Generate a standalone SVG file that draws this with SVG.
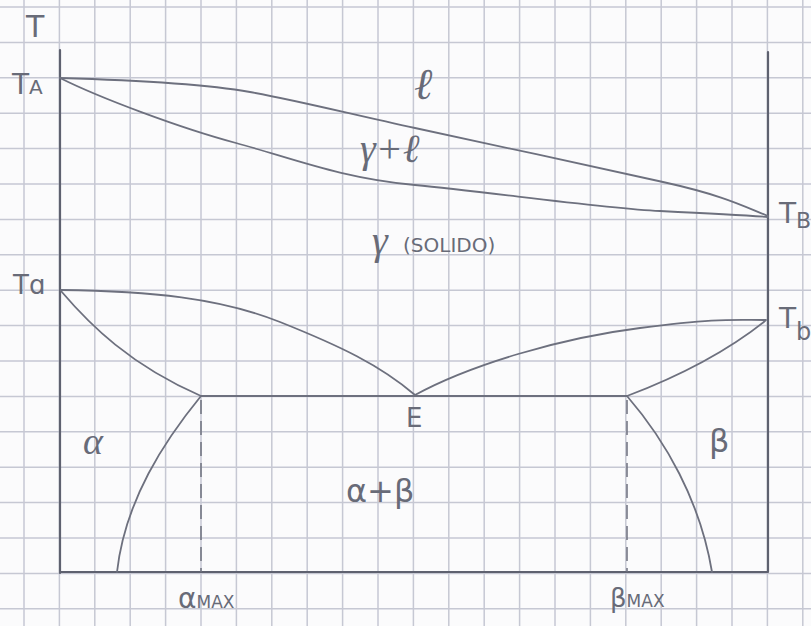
<svg xmlns="http://www.w3.org/2000/svg" width="811" height="626" viewBox="0 0 811 626">
<defs>
<style>
.grid{stroke:#c6c8d3;stroke-width:1.5;fill:none}
.axis{stroke:#5e616f;stroke-width:2.2;fill:none;stroke-linecap:round}
.curve{stroke:#6d707e;stroke-width:1.8;fill:none;stroke-linecap:round;stroke-linejoin:round}
.dash{stroke:#6d707e;stroke-width:1.5;fill:none;stroke-dasharray:14 7}
.t{font-family:"DejaVu Sans","Liberation Sans",sans-serif;fill:#686b78;font-weight:normal}
.h{font-family:"Liberation Serif","DejaVu Serif",serif;font-style:italic;fill:#686b78}
</style>
</defs>
<rect width="811" height="626" fill="#fbfbfc"/>
<g id="grid">
<path class="grid" d="M24,0V626M59.4,0V626M94.8,0V626M130.2,0V626M165.6,0V626M201,0V626M236.4,0V626M271.8,0V626M307.2,0V626M342.6,0V626M378,0V626M413.4,0V626M448.8,0V626M484.2,0V626M519.6,0V626M555,0V626M590.4,0V626M625.8,0V626M661.2,0V626M696.6,0V626M732,0V626M767.4,0V626M802.8,0V626"/>
<path class="grid" d="M0,7H811M0,42.4H811M0,77.8H811M0,113.2H811M0,148.6H811M0,184H811M0,219.4H811M0,254.8H811M0,290.2H811M0,325.6H811M0,361H811M0,396.4H811M0,431.8H811M0,467.2H811M0,502.6H811M0,538H811M0,573.4H811M0,608.8H811"/>
</g>
<g id="axes">
<path class="axis" d="M60,50V573M60,572H768M768,52V572"/>
</g>
<g id="connectors">
<path id="liquidus" class="curve" d="M60,78 C130,80 200,83 250,92 S350,114 415,128 S600,168 663,182 S745,207 768,216"/>
<path id="solidus" class="curve" d="M60,78 C100,98 180,128 236,143 S340,178 415,185 S600,208 660,211 S740,215 768,217"/>
<path id="ta-upper" class="curve" d="M61,290 C150,291 220,298 280,322 S380,365 415,395"/>
<path id="ta-lower" class="curve" d="M61,291 C90,325 130,365 201,396"/>
<path id="tb-upper" class="curve" d="M415,395 C470,365 560,338 640,328 S730,320 766,320"/>
<path id="tb-lower" class="curve" d="M765,321 C735,345 690,372 627,396"/>
<path id="eutectic" class="curve" d="M201,396H627"/>
<path id="alpha-solvus" class="curve" d="M201,396 C165,440 125,500 117,572"/>
<path id="beta-solvus" class="curve" d="M627,396 C665,440 700,500 712,572"/>
<path id="alpha-max-line" class="dash" d="M201,400V572"/>
<path id="beta-max-line" class="dash" d="M627,400V572"/>
</g>
<g id="label-T"><text class="t" x="26" y="37" font-size="30">T</text></g>
<g id="label-TA"><text class="t" x="12" y="94" font-size="28">T<tspan font-size="20">A</tspan></text></g>
<g id="label-TB"><text class="t" x="779" y="223" font-size="28">T<tspan font-size="22" dy="5">B</tspan></text></g>
<g id="label-Ta"><text class="t" x="13" y="294" font-size="26">T<tspan font-size="26">ɑ</tspan></text></g>
<g id="label-Tb"><text class="t" x="779" y="328" font-size="28">T<tspan font-size="24" dy="12">b</tspan></text></g>
<g id="region-l"><text class="h" x="414" y="99" font-size="44">ℓ</text></g>
<g id="region-gl"><text class="h" x="360" y="162" font-size="40">γ+ℓ</text></g>
<g id="region-g"><text class="h" x="372" y="254" font-size="40">γ</text><text class="t" x="403" y="252" font-size="20">(SOLIDO)</text></g>
<g id="point-E"><text class="t" x="406" y="427" font-size="26">E</text></g>
<g id="region-alpha"><text class="h" x="83" y="454" font-size="38">α</text></g>
<g id="region-beta"><text class="t" x="709" y="452" font-size="32">β</text></g>
<g id="region-ab"><text class="t" x="346" y="502" font-size="32">α+β</text></g>
<g id="label-amax"><text class="t" x="178" y="608" font-size="28">α<tspan font-size="17">MAX</tspan></text></g>
<g id="label-bmax"><text class="t" x="610" y="607" font-size="26">β<tspan font-size="17">MAX</tspan></text></g>
</svg>
